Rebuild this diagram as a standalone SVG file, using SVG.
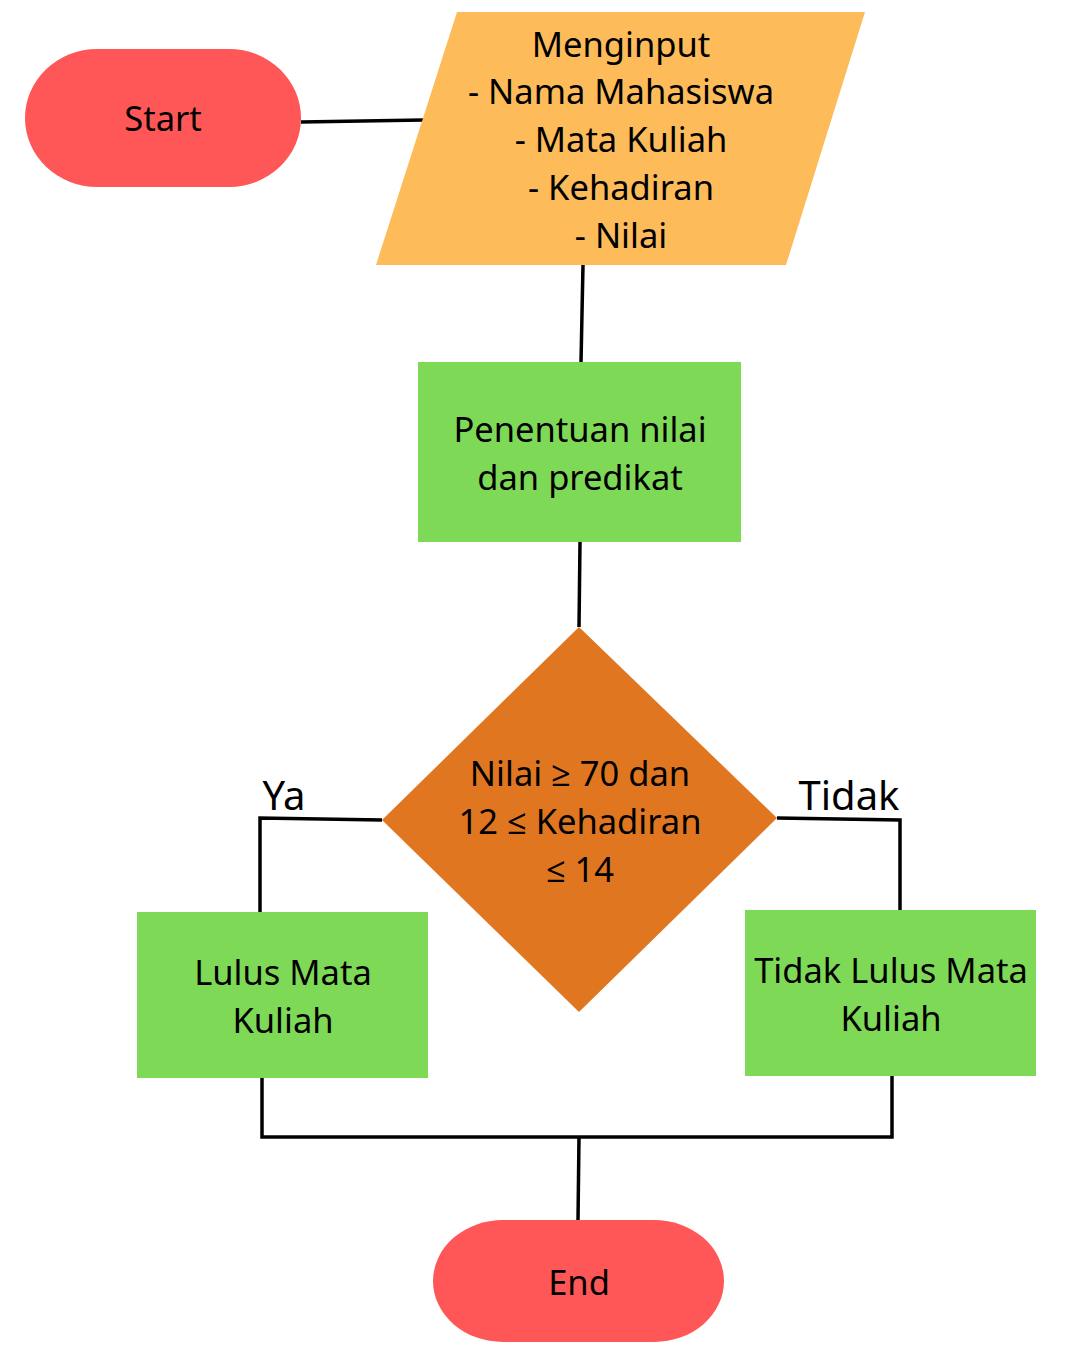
<svg xmlns="http://www.w3.org/2000/svg" width="1080" height="1350" viewBox="0 0 1080 1350">
<style>
.t{font-family:"Noto Sans","Open Sans",sans-serif;font-size:34.5px;fill:#000;text-anchor:middle;dominant-baseline:central}
.lbl{font-family:"Noto Sans","Open Sans",sans-serif;font-size:40px;fill:#000;text-anchor:middle;dominant-baseline:central}
.c{fill:none;stroke:#000;stroke-width:3.5}
.term{fill:#FF5757}
.proc{fill:#7ED957}
</style>
<rect width="1080" height="1350" fill="#fff"/>
<g id="connectors">
<path class="c" d="M301,122 L423,120"/>
<path class="c" d="M583,265 L581,362"/>
<path class="c" d="M580,542 L579,627"/>
<path class="c" d="M382,820 L260,818 L260,912"/>
<path class="c" d="M777,818 L900,820 L900,910"/>
<path class="c" d="M262,1078 L262,1137 L892,1137 L892,1076"/>
<path class="c" d="M579,1137 L578,1220"/>
<text class="lbl" x="284" y="794">Ya</text>
<text class="lbl" x="849" y="794">Tidak</text>
</g>
<g id="start">
<rect class="term" x="25" y="49" width="276" height="138" rx="72" ry="69"/>
<text class="t" x="163" y="117">Start</text>
</g>
<g id="input">
<polygon points="457,12 865,12 786,265 376,265" fill="#FDBB59"/>
<text class="t" x="621" y="43">Menginput</text>
<text class="t" x="621" y="90">- Nama Mahasiswa</text>
<text class="t" x="621" y="138">- Mata Kuliah</text>
<text class="t" x="621" y="186">- Kehadiran</text>
<text class="t" x="621" y="234">- Nilai</text>
</g>
<g id="process">
<rect class="proc" x="418" y="362" width="323" height="180"/>
<text class="t" x="580" y="428">Penentuan nilai</text>
<text class="t" x="580" y="476">dan predikat</text>
</g>
<g id="decision">
<polygon points="579,627 777,818 579,1012 382,820" fill="#E07720"/>
<text class="t" x="580" y="772">Nilai ≥ 70 dan</text>
<text class="t" x="580" y="820">12 ≤ Kehadiran</text>
<text class="t" x="580" y="868">≤ 14</text>
</g>
<g id="lulus">
<rect class="proc" x="137" y="912" width="291" height="166"/>
<text class="t" x="283" y="971">Lulus Mata</text>
<text class="t" x="283" y="1019">Kuliah</text>
</g>
<g id="tidaklulus">
<rect class="proc" x="745" y="910" width="291" height="166"/>
<text class="t" x="891" y="969">Tidak Lulus Mata</text>
<text class="t" x="891" y="1017">Kuliah</text>
</g>
<g id="end">
<rect class="term" x="433" y="1220" width="291" height="122" rx="70" ry="61"/>
<text class="t" x="579" y="1281">End</text>
</g>
</svg>
